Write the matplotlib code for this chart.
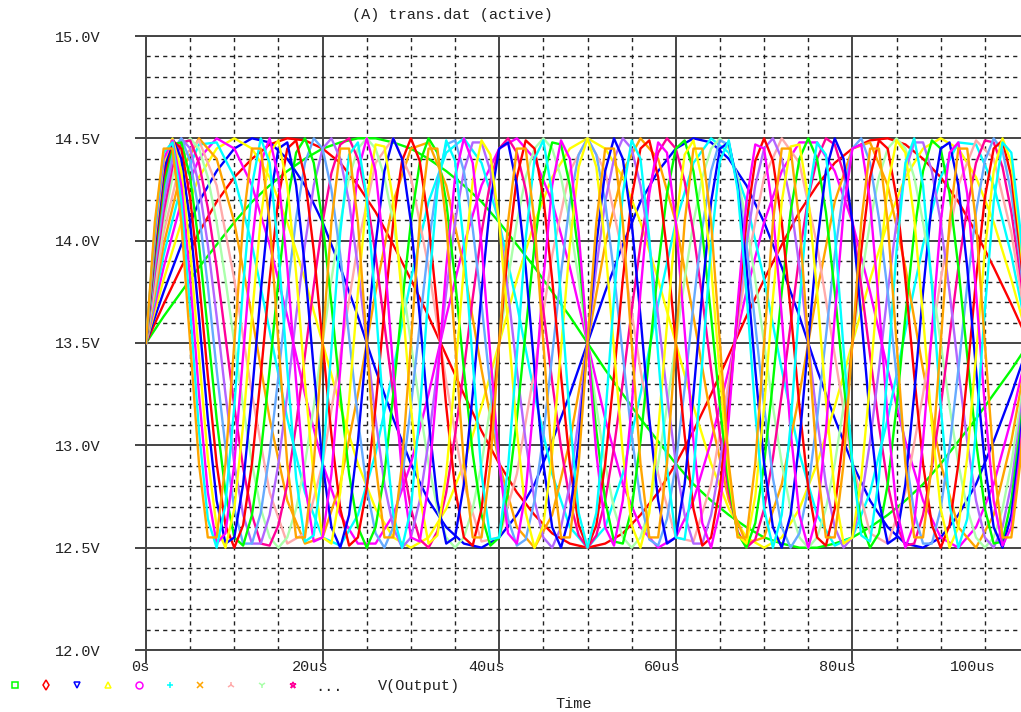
import numpy as np
import matplotlib.pyplot as plt
from matplotlib.lines import Line2D

plt.rcParams['font.family'] = ['Liberation Mono', 'DejaVu Sans Mono']

title = '(A) trans.dat (active)'
y_ticks = [12.0, 12.5, 13.0, 13.5, 14.0, 14.5, 15.0]
y_tick_labels = ['12.0V', '12.5V', '13.0V', '13.5V', '14.0V', '14.5V', '15.0V']
x_tick_labels = ['0s', '20us', '40us', '60us', '80us', '100us']
trace_name = 'V(Output)'
x_name = 'Time'

# slow traces are read every 2us, fast ones every 1us
time_coarse_us = np.arange(0, 104, 2)
time_fine_us = np.arange(0, 104, 1)

trace_colors = ['#00ff00', '#ff0000', '#0000ff', '#ffff00', '#ff00ff', '#00ffff', '#ffa500', '#ffaaaa',
                '#aaffaa', '#ff0099', '#b266ff', '#66aaff', '#00ff00', '#ff0000', '#0000ff', '#ffff00',
                '#ff00ff', '#00ffff', '#ffa500']

v01 = [13.50,13.63,13.75,13.87,13.98,14.09,14.19,14.27,14.34,14.40,14.45,14.48,14.50,14.50,14.48,14.45,14.40,14.34,14.27,14.19,14.09,13.98,13.87,13.75,13.63,13.50,13.37,13.25,13.13,13.02,12.91,12.81,12.73,12.66,12.60,12.55,12.52,12.50,12.50,12.52,12.55,12.60,12.66,12.73,12.81,12.91,13.02,13.13,13.25,13.37,13.50,13.63]
v02 = [13.50,13.69,13.87,14.04,14.19,14.31,14.40,14.47,14.50,14.49,14.45,14.38,14.27,14.14,13.98,13.81,13.63,13.44,13.25,13.07,12.91,12.77,12.66,12.57,12.52,12.50,12.52,12.57,12.66,12.77,12.91,13.07,13.25,13.44,13.63,13.81,13.98,14.14,14.27,14.38,14.45,14.49,14.50,14.47,14.40,14.31,14.19,14.04,13.87,13.69,13.50,13.31]
v03 = [13.50,13.75,13.98,14.19,14.34,14.45,14.50,14.48,14.40,14.27,14.09,13.87,13.63,13.37,13.13,12.91,12.73,12.60,12.52,12.50,12.55,12.66,12.81,13.02,13.25,13.50,13.75,13.98,14.19,14.34,14.45,14.50,14.48,14.40,14.27,14.09,13.87,13.63,13.37,13.13,12.91,12.73,12.60,12.52,12.50,12.55,12.66,12.81,13.02,13.25,13.50,13.75]
v04 = [13.50,13.81,14.09,14.31,14.45,14.50,14.45,14.31,14.09,13.81,13.50,13.19,12.91,12.69,12.55,12.50,12.55,12.69,12.91,13.19,13.50,13.81,14.09,14.31,14.45,14.50,14.45,14.31,14.09,13.81,13.50,13.19,12.91,12.69,12.55,12.50,12.55,12.69,12.91,13.19,13.50,13.81,14.09,14.31,14.45,14.50,14.45,14.31,14.09,13.81,13.50,13.19]
v05 = [13.50,13.87,14.19,14.40,14.50,14.45,14.27,13.98,13.63,13.25,12.91,12.66,12.52,12.52,12.66,12.91,13.25,13.63,13.98,14.27,14.45,14.50,14.40,14.19,13.87,13.50,13.13,12.81,12.60,12.50,12.55,12.73,13.02,13.37,13.75,14.09,14.34,14.48,14.48,14.34,14.09,13.75,13.37,13.02,12.73,12.55,12.50,12.60,12.81,13.13,13.50,13.87]
v06 = [13.50,13.93,14.27,14.47,14.48,14.31,13.98,13.56,13.13,12.77,12.55,12.51,12.66,12.96,13.37,13.81,14.19,14.43,14.50,14.38,14.09,13.69,13.25,12.86,12.60,12.50,12.60,12.86,13.25,13.69,14.09,14.38,14.50,14.43,14.19,13.81,13.37,12.96,12.66,12.51,12.55,12.77,13.13,13.56,13.98,14.31,14.48,14.47,14.27,13.93,13.50,13.07]
v07 = [13.50,13.98,14.34,14.50,14.40,14.09,13.63,13.13,12.73,12.52,12.55,12.81,13.25,13.75,14.19,14.45,14.48,14.27,13.87,13.37,12.91,12.60,12.50,12.66,13.02,13.50,13.98,14.34,14.50,14.40,14.09,13.63,13.13,12.73,12.52,12.55,12.81,13.25,13.75,14.19,14.45,14.48,14.27,13.87,13.37,12.91,12.60,12.50,12.66,13.02,13.50,13.98]
v08 = [13.50,14.04,14.40,14.49,14.27,13.81,13.25,12.77,12.52,12.57,12.91,13.44,13.98,14.38,14.50,14.31,13.87,13.31,12.81,12.53,12.55,12.86,13.37,13.93,14.34,14.50,14.34,13.93,13.37,12.86,12.55,12.53,12.81,13.31,13.87,14.31,14.50,14.38,13.98,13.44,12.91,12.57,12.52,12.77,13.25,13.81,14.27,14.49,14.40,14.04,13.50,12.96]
traces_coarse = [v01, v02, v03, v04, v05, v06, v07, v08]

v09 = [13.50,13.81,14.09,14.31,14.45,14.50,14.45,14.31,14.09,13.81,13.50,13.19,12.91,12.69,12.55,12.50,12.55,12.69,12.91,13.19,13.50,13.81,14.09,14.31,14.45,14.50,14.45,14.31,14.09,13.81,13.50,13.19,12.91,12.69,12.55,12.50,12.55,12.69,12.91,13.19,13.50,13.81,14.09,14.31,14.45,14.50,14.45,14.31,14.09,13.81,13.50,13.19,12.91,12.69,12.55,12.50,12.55,12.69,12.91,13.19,13.50,13.81,14.09,14.31,14.45,14.50,14.45,14.31,14.09,13.81,13.50,13.19,12.91,12.69,12.55,12.50,12.55,12.69,12.91,13.19,13.50,13.81,14.09,14.31,14.45,14.50,14.45,14.31,14.09,13.81,13.50,13.19,12.91,12.69,12.55,12.50,12.55,12.69,12.91,13.19,13.50,13.81,14.09,14.31]
v10 = [13.50,13.84,14.14,14.36,14.48,14.49,14.38,14.16,13.87,13.53,13.19,12.89,12.66,12.52,12.51,12.61,12.81,13.10,13.44,13.78,14.09,14.33,14.47,14.50,14.40,14.21,13.93,13.59,13.25,12.94,12.69,12.54,12.50,12.58,12.77,13.05,13.37,13.72,14.04,14.29,14.45,14.50,14.43,14.25,13.98,13.66,13.31,12.99,12.73,12.56,12.50,12.56,12.73,12.99,13.31,13.66,13.98,14.25,14.43,14.50,14.45,14.29,14.04,13.72,13.37,13.05,12.77,12.58,12.50,12.54,12.69,12.94,13.25,13.59,13.93,14.21,14.40,14.50,14.47,14.33,14.09,13.78,13.44,13.10,12.81,12.61,12.51,12.52,12.66,12.89,13.19,13.53,13.87,14.16,14.38,14.49,14.48,14.36,14.14,13.84,13.50,13.16,12.86,12.64]
v11 = [13.50,13.87,14.19,14.40,14.50,14.45,14.27,13.98,13.63,13.25,12.91,12.66,12.52,12.52,12.66,12.91,13.25,13.63,13.98,14.27,14.45,14.50,14.40,14.19,13.87,13.50,13.13,12.81,12.60,12.50,12.55,12.73,13.02,13.37,13.75,14.09,14.34,14.48,14.48,14.34,14.09,13.75,13.37,13.02,12.73,12.55,12.50,12.60,12.81,13.13,13.50,13.87,14.19,14.40,14.50,14.45,14.27,13.98,13.63,13.25,12.91,12.66,12.52,12.52,12.66,12.91,13.25,13.63,13.98,14.27,14.45,14.50,14.40,14.19,13.87,13.50,13.13,12.81,12.60,12.50,12.55,12.73,13.02,13.37,13.75,14.09,14.34,14.48,14.48,14.34,14.09,13.75,13.37,13.02,12.73,12.55,12.50,12.60,12.81,13.13,13.50,13.87,14.19,14.40]
v12 = [13.50,13.90,14.23,14.44,14.50,14.39,14.14,13.78,13.37,12.99,12.69,12.52,12.52,12.67,12.96,13.34,13.75,14.11,14.38,14.50,14.45,14.25,13.93,13.53,13.13,12.79,12.57,12.50,12.60,12.84,13.19,13.59,13.98,14.29,14.47,14.49,14.34,14.06,13.69,13.28,12.91,12.64,12.51,12.54,12.73,13.05,13.44,13.84,14.19,14.42,14.50,14.42,14.19,13.84,13.44,13.05,12.73,12.54,12.51,12.64,12.91,13.28,13.69,14.06,14.34,14.49,14.47,14.29,13.98,13.59,13.19,12.84,12.60,12.50,12.57,12.79,13.13,13.53,13.93,14.25,14.45,14.50,14.38,14.11,13.75,13.34,12.96,12.67,12.52,12.52,12.69,12.99,13.37,13.78,14.14,14.39,14.50,14.44,14.23,13.90,13.50,13.10,12.77,12.56]
v13 = [13.50,13.93,14.27,14.47,14.48,14.31,13.98,13.56,13.13,12.77,12.55,12.51,12.66,12.96,13.37,13.81,14.19,14.43,14.50,14.38,14.09,13.69,13.25,12.86,12.60,12.50,12.60,12.86,13.25,13.69,14.09,14.38,14.50,14.43,14.19,13.81,13.37,12.96,12.66,12.51,12.55,12.77,13.13,13.56,13.98,14.31,14.48,14.47,14.27,13.93,13.50,13.07,12.73,12.53,12.52,12.69,13.02,13.44,13.87,14.23,14.45,14.49,14.34,14.04,13.63,13.19,12.81,12.57,12.50,12.62,12.91,13.31,13.75,14.14,14.40,14.50,14.40,14.14,13.75,13.31,12.91,12.62,12.50,12.57,12.81,13.19,13.63,14.04,14.34,14.49,14.45,14.23,13.87,13.44,13.02,12.69,12.52,12.53,12.73,13.07,13.50,13.93,14.27,14.47]
v14 = [13.50,13.95,14.31,14.49,14.45,14.21,13.81,13.34,12.91,12.61,12.50,12.61,12.91,13.34,13.81,14.21,14.45,14.49,14.31,13.95,13.50,13.05,12.69,12.51,12.55,12.79,13.19,13.66,14.09,14.39,14.50,14.39,14.09,13.66,13.19,12.79,12.55,12.51,12.69,13.05,13.50,13.95,14.31,14.49,14.45,14.21,13.81,13.34,12.91,12.61,12.50,12.61,12.91,13.34,13.81,14.21,14.45,14.49,14.31,13.95,13.50,13.05,12.69,12.51,12.55,12.79,13.19,13.66,14.09,14.39,14.50,14.39,14.09,13.66,13.19,12.79,12.55,12.51,12.69,13.05,13.50,13.95,14.31,14.49,14.45,14.21,13.81,13.34,12.91,12.61,12.50,12.61,12.91,13.34,13.81,14.21,14.45,14.49,14.31,13.95,13.50,13.05,12.69,12.51]
v15 = [13.50,13.98,14.34,14.50,14.40,14.09,13.63,13.13,12.73,12.52,12.55,12.81,13.25,13.75,14.19,14.45,14.48,14.27,13.87,13.37,12.91,12.60,12.50,12.66,13.02,13.50,13.98,14.34,14.50,14.40,14.09,13.63,13.13,12.73,12.52,12.55,12.81,13.25,13.75,14.19,14.45,14.48,14.27,13.87,13.37,12.91,12.60,12.50,12.66,13.02,13.50,13.98,14.34,14.50,14.40,14.09,13.63,13.13,12.73,12.52,12.55,12.81,13.25,13.75,14.19,14.45,14.48,14.27,13.87,13.37,12.91,12.60,12.50,12.66,13.02,13.50,13.98,14.34,14.50,14.40,14.09,13.63,13.13,12.73,12.52,12.55,12.81,13.25,13.75,14.19,14.45,14.48,14.27,13.87,13.37,12.91,12.60,12.50,12.66,13.02,13.50,13.98,14.34,14.50]
v16 = [13.50,14.01,14.38,14.50,14.34,13.95,13.44,12.94,12.60,12.50,12.69,13.10,13.63,14.11,14.43,14.49,14.27,13.84,13.31,12.84,12.55,12.52,12.77,13.22,13.75,14.21,14.47,14.46,14.19,13.72,13.19,12.75,12.52,12.56,12.86,13.34,13.87,14.29,14.49,14.42,14.09,13.59,13.07,12.67,12.50,12.61,12.96,13.47,13.98,14.36,14.50,14.36,13.98,13.47,12.96,12.61,12.50,12.67,13.07,13.59,14.09,14.42,14.49,14.29,13.87,13.34,12.86,12.56,12.52,12.75,13.19,13.72,14.19,14.46,14.47,14.21,13.75,13.22,12.77,12.52,12.55,12.84,13.31,13.84,14.27,14.49,14.43,14.11,13.63,13.10,12.69,12.50,12.60,12.94,13.44,13.95,14.34,14.50,14.38,14.01,13.50,12.99,12.62,12.50]
v17 = [13.50,14.04,14.40,14.49,14.27,13.81,13.25,12.77,12.52,12.57,12.91,13.44,13.98,14.38,14.50,14.31,13.87,13.31,12.81,12.53,12.55,12.86,13.37,13.93,14.34,14.50,14.34,13.93,13.37,12.86,12.55,12.53,12.81,13.31,13.87,14.31,14.50,14.38,13.98,13.44,12.91,12.57,12.52,12.77,13.25,13.81,14.27,14.49,14.40,14.04,13.50,12.96,12.60,12.51,12.73,13.19,13.75,14.23,14.48,14.43,14.09,13.56,13.02,12.62,12.50,12.69,13.13,13.69,14.19,14.47,14.45,14.14,13.63,13.07,12.66,12.50,12.66,13.07,13.63,14.14,14.45,14.47,14.19,13.69,13.13,12.69,12.50,12.62,13.02,13.56,14.09,14.43,14.48,14.23,13.75,13.19,12.73,12.51,12.60,12.96,13.50,14.04,14.40,14.49]
v18 = [13.50,14.06,14.43,14.48,14.19,13.66,13.07,12.64,12.50,12.71,13.19,13.78,14.27,14.50,14.38,13.95,13.37,12.84,12.53,12.56,12.91,13.47,14.04,14.42,14.48,14.21,13.69,13.10,12.66,12.50,12.69,13.16,13.75,14.25,14.49,14.39,13.98,13.41,12.86,12.54,12.55,12.89,13.44,14.01,14.40,14.49,14.23,13.72,13.13,12.67,12.50,12.67,13.13,13.72,14.23,14.49,14.40,14.01,13.44,12.89,12.55,12.54,12.86,13.41,13.98,14.39,14.49,14.25,13.75,13.16,12.69,12.50,12.66,13.10,13.69,14.21,14.48,14.42,14.04,13.47,12.91,12.56,12.53,12.84,13.37,13.95,14.38,14.50,14.27,13.78,13.19,12.71,12.50,12.64,13.07,13.66,14.19,14.48,14.43,14.06,13.50,12.94,12.57,12.52]
v19 = [13.50,14.09,14.45,14.45,14.09,13.50,12.91,12.55,12.55,12.91,13.50,14.09,14.45,14.45,14.09,13.50,12.91,12.55,12.55,12.91,13.50,14.09,14.45,14.45,14.09,13.50,12.91,12.55,12.55,12.91,13.50,14.09,14.45,14.45,14.09,13.50,12.91,12.55,12.55,12.91,13.50,14.09,14.45,14.45,14.09,13.50,12.91,12.55,12.55,12.91,13.50,14.09,14.45,14.45,14.09,13.50,12.91,12.55,12.55,12.91,13.50,14.09,14.45,14.45,14.09,13.50,12.91,12.55,12.55,12.91,13.50,14.09,14.45,14.45,14.09,13.50,12.91,12.55,12.55,12.91,13.50,14.09,14.45,14.45,14.09,13.50,12.91,12.55,12.55,12.91,13.50,14.09,14.45,14.45,14.09,13.50,12.91,12.55,12.55,12.91,13.50,14.09,14.45,14.45]
traces_fine = [v09, v10, v11, v12, v13, v14, v15, v16, v17, v18, v19]

legend_markers = ['s', 'd', 'v', '^', 'o', '+', 'x', '2', '1', '*']


def fig_text(x_px, y_px, s, **kwargs):
    fig.text(x_px / W, 1 - y_px / H, s, color='#222222', fontsize=11, ha='center', va='center', **kwargs)


W, H = 1021, 712
fig = plt.figure(figsize=(W / 100, H / 100), dpi=100)
ax = fig.add_axes([146 / W, 1 - 650 / H, 1 - 146 / W, (650 - 36) / H])

for values, color in zip(traces_coarse, trace_colors):
    ax.plot(time_coarse_us, values, color=color, lw=1.7, zorder=3)
for values, color in zip(traces_fine, trace_colors[len(traces_coarse):]):
    ax.plot(time_fine_us, values, color=color, lw=1.7, zorder=3)

ax.set_xlim(0, (W - 146) / 8.83)
ax.set_ylim(12, 15)

# solid every 0.5V / 20us, dashed in between
ax.set_yticks(y_ticks, y_tick_labels)
ax.set_yticks(np.arange(12, 15.01, 0.1), minor=True)
ax.set_xticks([0, 20, 40, 60, 80], [])
ax.set_xticks(np.arange(0, 100, 5), minor=True)
ax.grid(True, which='major', color='#444444', lw=1.4, zorder=1)
ax.grid(True, which='minor', color='#222222', lw=1.0, ls=(0, (3, 3)), zorder=1)
ax.set_axisbelow(True)
ax.tick_params(axis='y', which='major', length=8, width=1.4, color='#444444', pad=25, labelsize=11, labelcolor='#222222')
ax.tick_params(axis='x', which='major', length=9, width=1.4, color='#444444')
ax.tick_params(which='minor', length=0)
for side in ['left', 'top', 'bottom']:
    ax.spines[side].set_color('#444444')
    ax.spines[side].set_linewidth(1.4)
ax.spines['right'].set_visible(False)

for x_px, label in zip([140, 310, 486, 662, 837, 973], x_tick_labels):
    fig_text(x_px, 667, label)
fig_text(452, 15, title)
fig_text(419, 686, trace_name)
fig_text(574, 704, x_name)
fig_text(329, 687, '...')

for i, marker in enumerate(legend_markers):
    fig.add_artist(Line2D([(15 + i * 30.9) / W], [1 - 685 / H], marker=marker, ms=5, mew=1.1, mfc='none',
                          mec=trace_colors[i], ls='none', transform=fig.transFigure))

fig.savefig('out.png', dpi=100)
